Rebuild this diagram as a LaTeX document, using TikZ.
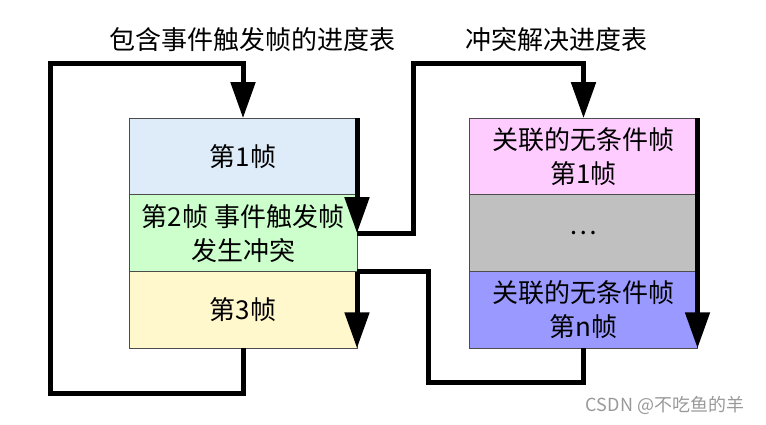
\documentclass[tikz,border=0pt]{standalone}
\usepackage{fontspec}
\setmainfont{Noto Sans CJK SC}
\usetikzlibrary{positioning,arrows.meta}
\definecolor{rowblue}{RGB}{222,235,248}
\definecolor{rowgreen}{RGB}{204,255,204}
\definecolor{rowyellow}{RGB}{255,248,204}
\definecolor{rowpink}{RGB}{255,204,255}
\definecolor{rowgray}{RGB}{192,192,192}
\definecolor{rowpurple}{RGB}{153,153,255}
\begin{document}
\begin{tikzpicture}[
    x=1pt, y=-1pt,
    font=\fontsize{26}{34}\selectfont,
    box/.style={rectangle, draw=black!70, line width=0.8pt, minimum width=228pt, minimum height=76.7pt, align=center, inner sep=0pt, outer sep=0pt},
    wire/.style={line width=5pt},
    flow/.style={wire, -{Triangle[width=24pt,length=36pt]}},
    title/.style={align=center}
]
    \useasboundingbox (0,0) rectangle (766,424);

    % Titles
    \node[title] (ttlL) at (252,40) {包含事件触发帧的进度表};
    \node[title] (ttlR) at (556,40) {冲突解决进度表};

    % Schedule with the event-triggered frame
    \node[box, fill=rowblue] (f1) at (243,156.5) {第1帧};
    \node[box, fill=rowgreen, below=0pt of f1] (f2) {第2帧 事件触发帧\\发生冲突};
    \node[box, fill=rowyellow, below=0pt of f2] (f3) {第3帧};

    % Collision resolving schedule
    \node[box, fill=rowpink] (r1) at (583.5,156.5) {关联的无条件帧\\第1帧};
    \node[box, fill=rowgray, below=0pt of r1] (r2) {…};
    \node[box, fill=rowpurple, below=0pt of r2] (rn) {关联的无条件帧\\第n帧};

    % Corners of the connectors
    \coordinate (loopL) at (50,393);
    \coordinate (upM) at (413,63);
    \coordinate (lowM) at (428,382);

    % Arrows
    \draw[flow] (f3.south) |- (loopL) |- ([yshift=55pt]f1.north) -- (f1.north);
    \draw[flow] (f1.north east) -- (f2.east);
    \draw[flow] (f2.east) -| (upM) -| (r1.north);
    \draw[flow] (f2.south east) -- (f3.south east);
    \draw[wire] (f2.south east) -| (lowM) -| (rn.south);
    \draw[flow] (r1.north east) -- (rn.south east);

    % Watermark
    \node[text=black!40, font=\fontsize{18}{20}\selectfont] (mark) at (665,405) {CSDN @不吃鱼的羊};
\end{tikzpicture}
\end{document}
